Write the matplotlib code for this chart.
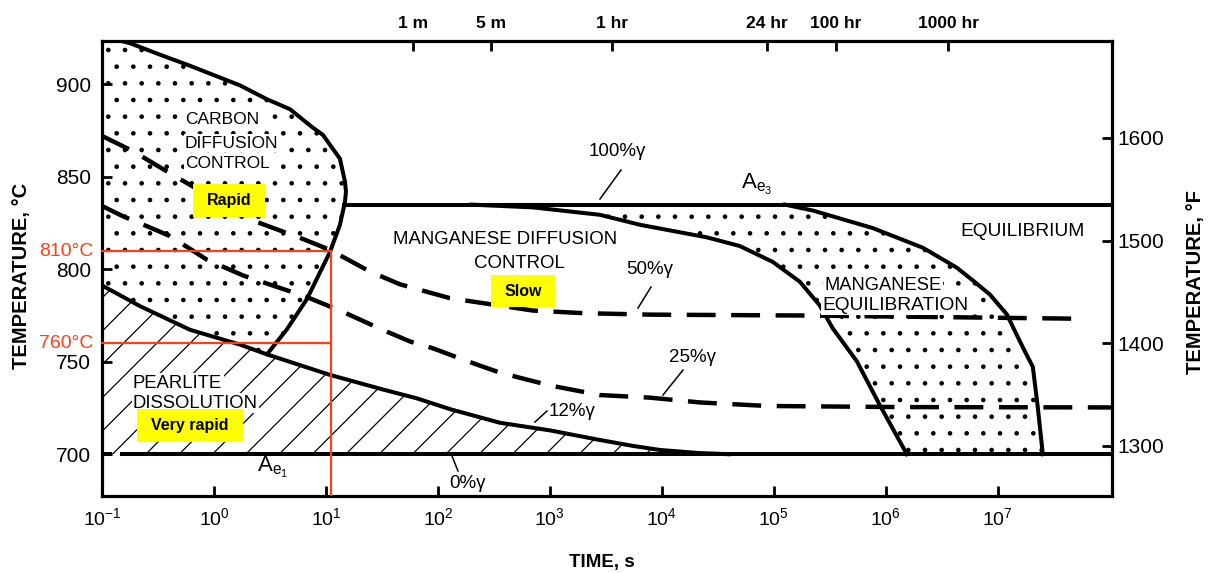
import numpy as np
import matplotlib
matplotlib.use("Agg")
import matplotlib.pyplot as plt
from matplotlib.patches import Rectangle
from matplotlib.lines import Line2D
from matplotlib.ticker import NullLocator, FixedLocator, FixedFormatter

plt.rcParams['font.family'] = ['Liberation Sans', 'DejaVu Sans']
plt.rcParams['mathtext.fontset'] = 'custom'
plt.rcParams['mathtext.rm'] = 'Liberation Sans'
plt.rcParams['mathtext.it'] = 'Liberation Sans:italic'
plt.rcParams['mathtext.bf'] = 'Liberation Sans:bold'
plt.rcParams['hatch.linewidth'] = 0.9

# ---------------- data (time as log10 seconds, temperature in degC) ----------------
carbon_logt = [-0.857, -0.75, -0.482, -0.214, 0.232, 0.473, 0.679, 0.875, 0.973,
               1.125, 1.17, 1.179, 1.17, 1.125, 1.036, 0.83, 0.652, 0.473]
carbon_temp = [924.0, 922.3, 916.1, 910.1, 899.5, 892.0, 886.6, 877.0, 872.7,
               859.8, 847.4, 842.0, 836.5, 824.1, 809.4, 783.9, 767.6, 754.0]

pearlite_logt = [-1.0, -0.661, -0.214, 0.232, 0.473, 1.036, 1.509, 1.813, 2.107,
                 2.554, 3.0, 3.446, 3.741, 3.982, 4.339, 4.6]
pearlite_temp = [791.3, 780.1, 767.3, 759.3, 754.0, 742.9, 735.0, 730.2, 724.4,
                 717.0, 712.9, 707.7, 704.5, 702.3, 700.6, 700.0]

mn_inner_logt = [2.3, 2.848, 3.446, 3.804, 4.402, 4.696, 4.991, 5.232, 5.411,
                 5.527, 5.741, 5.946, 6.188]
mn_inner_temp = [835.0, 833.5, 829.5, 824.1, 817.3, 812.6, 804.0, 793.3, 780.4,
                 768.0, 750.3, 726.6, 700.0]

mn_outer_logt = [5.1, 5.348, 5.884, 6.330, 6.634, 6.777, 6.929, 7.080, 7.223,
                 7.313, 7.357, 7.402]
mn_outer_temp = [835.0, 831.8, 822.3, 811.7, 800.9, 794.0, 786.4, 775.7, 757.9,
                 747.2, 725.5, 700.0]

g50_logt = [-0.991, -0.723, -0.366, 0.321, 0.795, 1.036, 1.393, 1.661, 2.107,
            2.438, 2.848, 3.295, 3.893, 5.321, 7.705]
g50_temp = [871.9, 863.9, 851.0, 827.0, 816.4, 810.5, 798.8, 791.9, 784.4,
            781.4, 777.7, 776.3, 775.5, 775.0, 773.3]

g25_logt = [-0.991, -0.8125, -0.598, -0.393, -0.0625, 0.259, 0.83, 1.152, 1.482,
            1.75, 1.955, 2.259, 2.554, 3.0, 3.446, 3.893, 4.339, 4.938, 6.125, 8.02]
g25_temp = [834.0, 828.7, 823.3, 818.0, 805.2, 796.7, 785.0, 777.0, 767.9,
            761.0, 757.3, 750.4, 744.1, 737.2, 732.0, 730.6, 728.0, 726.1, 725.5, 725.3]

AE1_TEMP = 700.0
AE3_TEMP = 835.0
ae1_logt_segments = [(-1.0, -0.93), (-0.82, 8.02)]
ae3_logt_range = (1.165, 8.02)

red_temps = [810, 760]
red_time_s = 11.0

XLIM_LOG = (-1.0, 8.02)
YLIM_C = (677.4, 923.5)
c_ticks = [700, 750, 800, 850, 900]
f_ticks = [1300, 1400, 1500, 1600]
bottom_tick_exps = [-1, 0, 1, 2, 3, 4, 5, 6, 7]
top_tick_seconds = [60, 300, 3600, 86400, 360000, 3600000]
top_tick_labels = ['1 m', '5 m', '1 hr', '24 hr', '100 hr', '1000 hr']

# ---------------- figure ----------------
W, H = 1212, 573
fig = plt.figure(figsize=(W / 100, H / 100), dpi=100)
ax = fig.add_axes([102 / W, 1 - 496 / H, (1112 - 102) / W, (496 - 41) / H])


def P(x, y):
    return (x / W, 1 - y / H)


def T(logt):
    return 10.0 ** np.asarray(logt, dtype=float)


LW = 2.9
RED = '#FF3D17'

# ---- filled regions ----
cx = [-1.0] + carbon_logt + pearlite_logt[:5][::-1]
cy = [924.0] + carbon_temp + pearlite_temp[:5][::-1]
ax.fill(T(cx), cy, facecolor='none', edgecolor='black', hatch='.', linewidth=0, zorder=1)

px_ = pearlite_logt + [-1.0]
py_ = pearlite_temp + [AE1_TEMP]
ax.fill(T(px_), py_, facecolor='none', edgecolor='black', hatch='/', linewidth=0, zorder=1)

mx = mn_inner_logt + mn_outer_logt[::-1]
my = mn_inner_temp + mn_outer_temp[::-1]
ax.fill(T(mx), my, facecolor='none', edgecolor='black', hatch='.', linewidth=0, zorder=1)

# ---- solid curves ----
ax.plot(T(carbon_logt), carbon_temp, color='black', lw=LW, solid_capstyle='round', zorder=3)
ax.plot(T(pearlite_logt), pearlite_temp, color='black', lw=LW, zorder=3)
ax.plot(T(mn_inner_logt), mn_inner_temp, color='black', lw=LW, zorder=3)
ax.plot(T(mn_outer_logt), mn_outer_temp, color='black', lw=LW, zorder=3)
for a, b in ae1_logt_segments:
    ax.plot(T([a, b]), [AE1_TEMP, AE1_TEMP], color='black', lw=LW, zorder=3)
ax.plot(T(ae3_logt_range), [AE3_TEMP, AE3_TEMP], color='black', lw=LW, zorder=3)

# ---- dashed curves ----
for lx, ly in [(g50_logt, g50_temp), (g25_logt, g25_temp)]:
    ln, = ax.plot(T(lx), ly, color='black', lw=3.2, zorder=3)
    ln.set_dashes((6.5, 3.5))

# ---- red guide lines ----
for rt in red_temps:
    ax.plot([10 ** XLIM_LOG[0], red_time_s], [rt, rt], color=RED, lw=1.6, zorder=6, clip_on=False)
ax.plot([red_time_s, red_time_s], [red_temps[0], YLIM_C[0]], color=RED, lw=1.6, zorder=6)

# ---- axes ----
ax.set_xscale('log')
ax.set_xlim(10 ** XLIM_LOG[0], 10 ** XLIM_LOG[1])
ax.set_ylim(*YLIM_C)
ax.xaxis.set_major_locator(FixedLocator([10.0 ** e for e in bottom_tick_exps]))
ax.xaxis.set_minor_locator(NullLocator())
ax.set_xticklabels([r'$\mathregular{10^{%d}}$' % e for e in bottom_tick_exps])
ax.set_yticks(c_ticks)
ax.tick_params(axis='both', direction='in', length=7, width=2.0, top=False, right=False)
ax.tick_params(axis='x', labelsize=14, pad=8)
ax.tick_params(axis='y', labelsize=15, pad=8)
for s in ax.spines.values():
    s.set_linewidth(2.3)

ax_t = ax.twiny()
ax_t.set_xscale('log')
ax_t.set_xlim(ax.get_xlim())
ax_t.xaxis.set_major_locator(FixedLocator(top_tick_seconds))
ax_t.xaxis.set_major_formatter(FixedFormatter(top_tick_labels))
ax_t.xaxis.set_minor_locator(NullLocator())
ax_t.tick_params(axis='x', direction='in', length=7, width=2.0, labelsize=12.5, pad=7)
for lab in ax_t.get_xticklabels():
    lab.set_fontweight('bold')
for s in ax_t.spines.values():
    s.set_visible(False)

ax_r = ax.twinx()
ax_r.set_ylim(YLIM_C[0] * 1.8 + 32, YLIM_C[1] * 1.8 + 32)
ax_r.set_yticks(f_ticks)
ax_r.yaxis.set_minor_locator(NullLocator())
ax_r.tick_params(axis='y', direction='in', length=7, width=2.0, labelsize=15, pad=4)
for s in ax_r.spines.values():
    s.set_visible(False)

# ---- axis titles ----
fig.text(*P(22, 276), 'TEMPERATURE, °C', rotation=90, ha='center', va='center',
         fontsize=14.5, fontweight='bold')
fig.text(*P(1196, 282), 'TEMPERATURE, °F', rotation=90, ha='center', va='center',
         fontsize=14.5, fontweight='bold')
fig.text(*P(602, 563), 'TIME, s', ha='center', va='center', fontsize=13.5, fontweight='bold')

# ---- red labels ----
fig.text(*P(93, 251), '810°C', ha='right', va='center', fontsize=14, color=RED)
fig.text(*P(93, 343), '760°C', ha='right', va='center', fontsize=14, color=RED)

# ---- region labels ----
wb = dict(facecolor='white', edgecolor='none', pad=1.0)
for txt, y in [('CARBON', 120), ('DIFFUSION', 143), ('CONTROL', 164)]:
    fig.text(*P(185, y), txt, ha='left', va='center', fontsize=12.5, bbox=wb, zorder=4)
fig.text(*P(505, 240), 'MANGANESE DIFFUSION', ha='center', va='center', fontsize=13.4)
fig.text(*P(519, 263), 'CONTROL', ha='center', va='center', fontsize=13.4)
fig.text(*P(1023, 232), 'EQUILIBRIUM', ha='center', va='center', fontsize=13.8)
fig.text(*P(824, 285), 'MANGANESE', ha='left', va='center', fontsize=13.2, bbox=wb, zorder=4)
fig.text(*P(822, 305), 'EQUILIBRATION', ha='left', va='center', fontsize=13.8, bbox=wb, zorder=4)
fig.text(*P(133, 383), 'PEARLITE', ha='left', va='center', fontsize=13.3, bbox=wb, zorder=4)
fig.text(*P(133, 403), 'DISSOLUTION', ha='left', va='center', fontsize=13.3, bbox=wb, zorder=4)

# ---- curve labels with leaders ----
GS = 13.5
fig.text(*P(617, 152), '100%γ', ha='center', va='center', fontsize=GS)
fig.text(*P(650, 270), '50%γ', ha='center', va='center', fontsize=GS)
fig.text(*P(692, 357), '25%γ', ha='center', va='center', fontsize=GS)
fig.text(*P(572, 411), '12%γ', ha='center', va='center', fontsize=GS)
fig.text(*P(467, 484), '0%γ', ha='center', va='center', fontsize=GS)
fig.text(*P(757, 184), r'$\mathregular{A_{e_3}}$', ha='center', va='center', fontsize=16)
fig.text(*P(273, 467), r'$\mathregular{A_{e_1}}$', ha='center', va='center', fontsize=16)
for (x1, y1), (x2, y2) in [((600, 199), (621, 170)), ((638, 308), (651, 287)),
                           ((663, 395), (683, 370)), ((535, 422), (547, 411)),
                           ((452, 456), (458, 471))]:
    fig.add_artist(Line2D([x1 / W, x2 / W], [1 - y1 / H, 1 - y2 / H], color='black', lw=1.1))

# ---- yellow highlight boxes ----
for (x0, y0, x1, y1), txt in [((193, 184, 265, 217), 'Rapid'),
                              ((491, 275, 555, 307), 'Slow'),
                              ((137, 409, 243, 442), 'Very rapid')]:
    fig.add_artist(Rectangle(P(x0, y1), (x1 - x0) / W, (y1 - y0) / H, transform=fig.transFigure,
                             facecolor='#FFFF00', edgecolor='none', zorder=5))
    fig.text(*P((x0 + x1) / 2, (y0 + y1) / 2), txt, ha='center', va='center',
             fontsize=11.5, fontweight='bold', zorder=6)

fig.savefig('out.png', dpi=100)
